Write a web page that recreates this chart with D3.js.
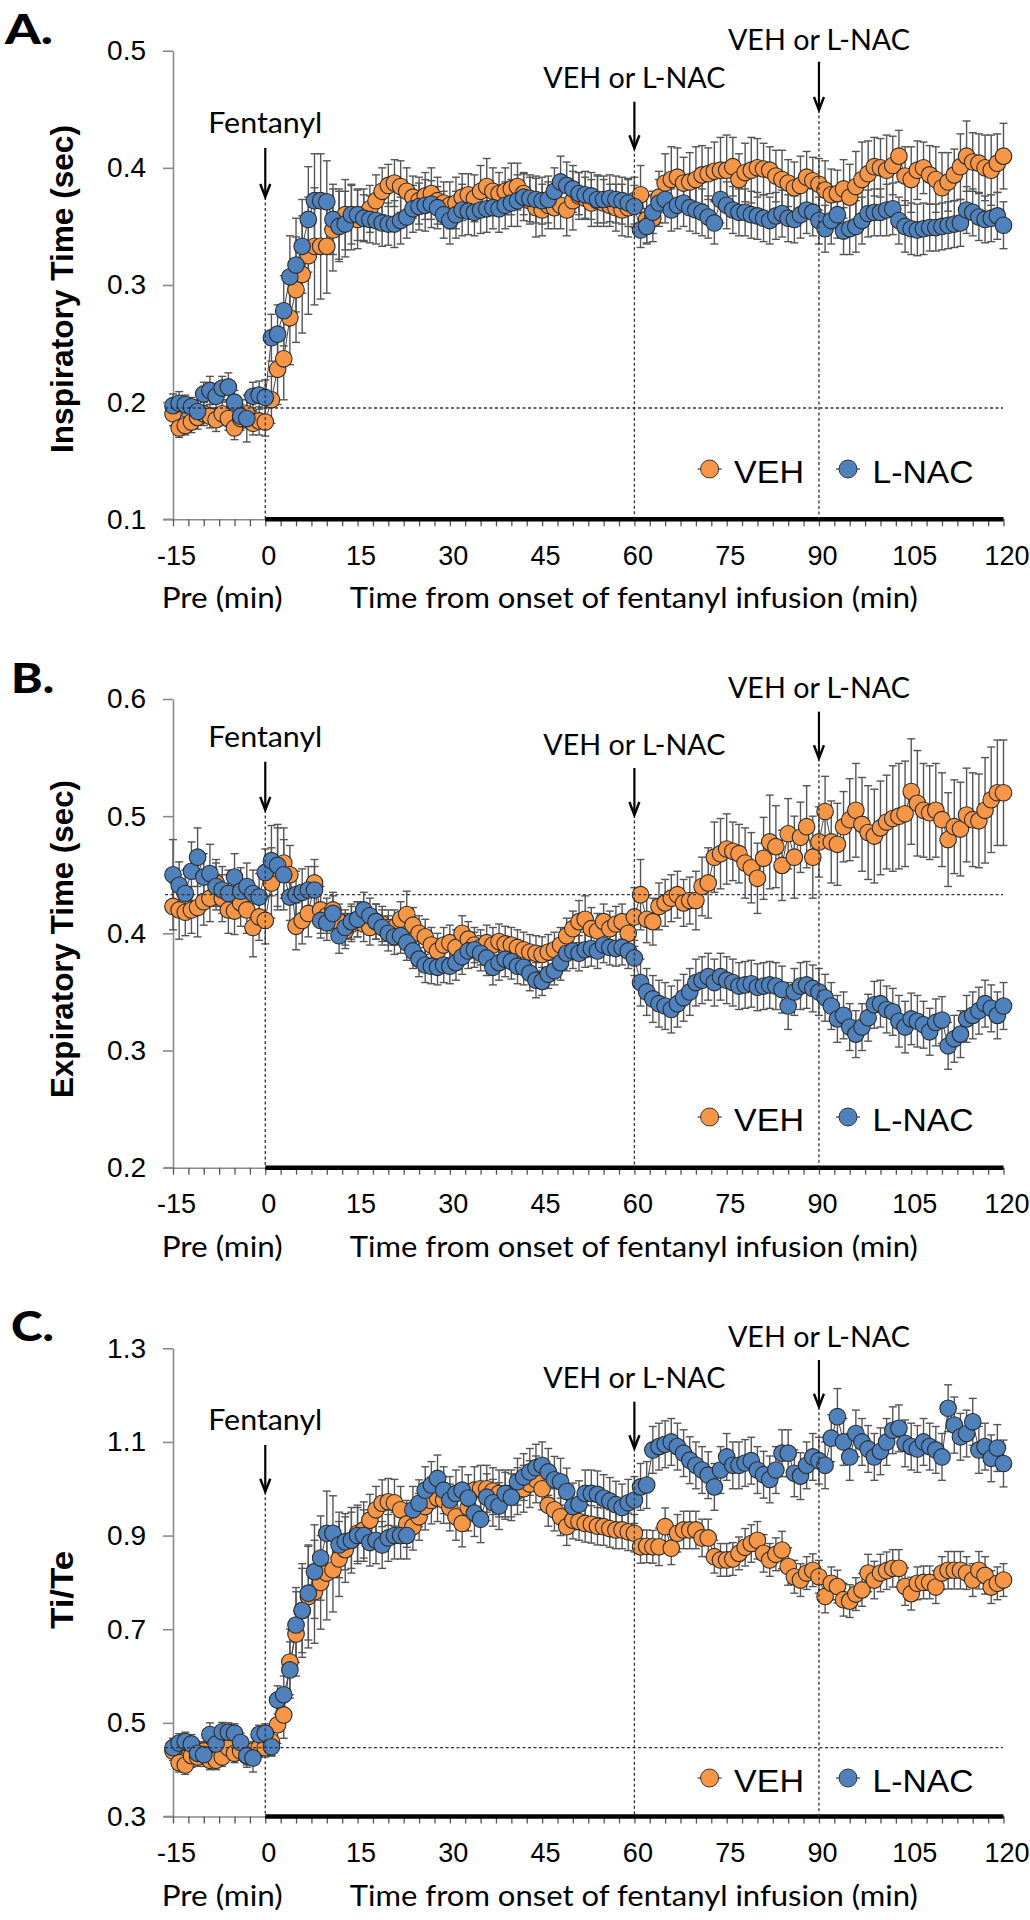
<!DOCTYPE html>
<html><head><meta charset="utf-8">
<script src="https://cdn.jsdelivr.net/npm/d3@7"></script>
<style>body{margin:0;background:#fff}svg{display:block}</style>
</head><body>
<svg id="chart" width="1030" height="1920"></svg>
<script>
// ---------------- DATA ----------------
const minutes = d3.range(-15, 121);            // one sample per minute, -15 .. 120
const xTickLabels = [-15, 0, 15, 30, 45, 60, 75, 90, 105, 120];
const seriesNames = ["VEH", "L-NAC"];
const eventTimes = [0, 60, 90];
const eventLabels = ["Fentanyl", "VEH or L-NAC", "VEH or L-NAC"];

// Panel A: Inspiratory time (sec)
const aTicks = [0.1, 0.2, 0.3, 0.4, 0.5];
const aBaseline = 0.195;
const aVEH = [
0.190,0.178,0.180,0.183,0.187,0.190,0.188,0.185,0.190,0.186,
0.178,0.186,0.190,0.182,0.184,0.183,0.202,0.228,0.237,0.272,
0.296,0.309,0.325,0.333,0.333,0.333,0.347,0.352,0.360,0.358,
0.356,0.360,0.365,0.372,0.380,0.385,0.387,0.384,0.380,0.375,
0.372,0.376,0.378,0.372,0.370,0.368,0.370,0.375,0.377,0.374,
0.380,0.384,0.380,0.378,0.380,0.382,0.384,0.378,0.372,0.366,
0.364,0.368,0.366,0.368,0.364,0.372,0.376,0.374,0.370,0.372,
0.370,0.368,0.366,0.364,0.366,0.372,0.377,0.356,0.357,0.375,
0.387,0.390,0.392,0.387,0.388,0.390,0.394,0.395,0.397,0.398,
0.398,0.401,0.390,0.396,0.398,0.400,0.399,0.398,0.393,0.390,
0.387,0.383,0.385,0.392,0.389,0.386,0.381,0.377,0.378,0.382,
0.375,0.384,0.390,0.395,0.401,0.400,0.398,0.402,0.410,0.393,
0.390,0.398,0.400,0.394,0.390,0.383,0.388,0.394,0.401,0.410,
0.405,0.404,0.400,0.398,0.404,0.410];
const aVEHerr = [
0.010,0.008,0.008,0.009,0.010,0.010,0.010,0.010,0.010,0.010,
0.010,0.010,0.012,0.010,0.012,0.012,0.020,0.030,0.035,0.040,
0.045,0.050,0.050,0.050,0.045,0.040,0.035,0.030,0.030,0.028,
0.025,0.022,0.020,0.022,0.020,0.018,0.020,0.022,0.020,0.018,
0.020,0.020,0.022,0.020,0.018,0.020,0.022,0.020,0.018,0.020,
0.022,0.024,0.020,0.018,0.020,0.022,0.020,0.018,0.020,0.025,
0.022,0.020,0.018,0.020,0.022,0.025,0.020,0.018,0.020,0.022,
0.020,0.018,0.020,0.022,0.025,0.020,0.025,0.020,0.020,0.022,
0.025,0.028,0.025,0.022,0.025,0.028,0.025,0.022,0.025,0.028,
0.030,0.025,0.022,0.025,0.028,0.025,0.022,0.020,0.022,0.025,
0.020,0.022,0.025,0.022,0.020,0.022,0.025,0.022,0.020,0.025,
0.028,0.030,0.032,0.028,0.025,0.025,0.030,0.025,0.022,0.025,
0.028,0.025,0.022,0.025,0.028,0.030,0.025,0.022,0.028,0.030,
0.025,0.025,0.028,0.030,0.025,0.028];
const aNAC = [
0.197,0.199,0.198,0.196,0.192,0.207,0.210,0.205,0.212,0.213,
0.200,0.188,0.186,0.205,0.206,0.204,0.255,0.258,0.278,0.307,
0.317,0.333,0.356,0.372,0.372,0.371,0.356,0.350,0.352,0.360,
0.360,0.357,0.356,0.355,0.353,0.352,0.352,0.355,0.358,0.365,
0.367,0.368,0.369,0.366,0.360,0.355,0.360,0.364,0.363,0.362,
0.364,0.365,0.366,0.365,0.368,0.370,0.372,0.375,0.374,0.373,
0.372,0.373,0.380,0.388,0.385,0.382,0.378,0.377,0.376,0.373,
0.373,0.374,0.373,0.372,0.370,0.367,0.347,0.350,0.362,0.370,
0.373,0.364,0.368,0.370,0.366,0.364,0.362,0.358,0.353,0.373,
0.368,0.364,0.362,0.362,0.360,0.359,0.357,0.355,0.359,0.361,
0.357,0.356,0.360,0.364,0.362,0.355,0.348,0.355,0.360,0.346,
0.348,0.350,0.355,0.361,0.362,0.362,0.364,0.365,0.355,0.350,
0.348,0.347,0.348,0.349,0.349,0.350,0.351,0.352,0.353,0.364,
0.362,0.358,0.356,0.357,0.359,0.351];
const aNACerr = [
0.010,0.010,0.008,0.008,0.010,0.010,0.012,0.010,0.010,0.012,
0.010,0.010,0.020,0.012,0.012,0.015,0.020,0.025,0.030,0.035,
0.040,0.040,0.045,0.040,0.040,0.035,0.030,0.030,0.028,0.025,
0.022,0.020,0.020,0.020,0.020,0.018,0.020,0.020,0.018,0.020,
0.020,0.022,0.020,0.018,0.020,0.020,0.020,0.022,0.020,0.020,
0.020,0.020,0.018,0.020,0.020,0.020,0.022,0.020,0.020,0.020,
0.020,0.020,0.020,0.022,0.020,0.020,0.018,0.020,0.020,0.020,
0.020,0.020,0.020,0.020,0.020,0.018,0.015,0.015,0.018,0.020,
0.020,0.018,0.020,0.020,0.020,0.020,0.020,0.018,0.018,0.020,
0.020,0.020,0.020,0.020,0.020,0.020,0.020,0.020,0.020,0.020,
0.020,0.020,0.020,0.020,0.020,0.020,0.020,0.020,0.020,0.020,
0.022,0.022,0.020,0.020,0.020,0.020,0.022,0.022,0.020,0.022,
0.022,0.022,0.022,0.020,0.020,0.020,0.020,0.020,0.020,0.020,
0.020,0.020,0.020,0.020,0.020,0.020];

// Panel B: Expiratory time (sec)
const bTicks = [0.2, 0.3, 0.4, 0.5, 0.6];
const bBaseline = 0.433;
const bVEH = [
0.423,0.420,0.418,0.420,0.422,0.427,0.430,0.443,0.430,0.420,
0.419,0.426,0.420,0.405,0.414,0.411,0.443,0.455,0.460,0.450,
0.406,0.411,0.417,0.443,0.420,0.415,0.420,0.410,0.402,0.408,
0.412,0.408,0.405,0.410,0.408,0.405,0.405,0.412,0.416,0.407,
0.400,0.397,0.390,0.385,0.390,0.392,0.388,0.400,0.395,0.390,
0.388,0.392,0.390,0.393,0.391,0.390,0.388,0.386,0.384,0.383,
0.382,0.384,0.386,0.390,0.398,0.404,0.410,0.412,0.404,0.402,
0.410,0.404,0.408,0.410,0.400,0.414,0.433,0.412,0.410,0.423,
0.426,0.430,0.433,0.426,0.428,0.428,0.440,0.443,0.465,0.468,
0.472,0.470,0.468,0.460,0.456,0.447,0.464,0.478,0.474,0.458,
0.485,0.465,0.482,0.491,0.465,0.478,0.504,0.478,0.476,0.491,
0.497,0.505,0.493,0.486,0.483,0.490,0.495,0.498,0.500,0.502,
0.521,0.511,0.505,0.503,0.505,0.497,0.480,0.491,0.489,0.501,
0.497,0.496,0.505,0.514,0.520,0.520];
const bVEHerr = [
0.020,0.025,0.020,0.020,0.025,0.020,0.020,0.020,0.020,0.020,
0.020,0.020,0.020,0.025,0.020,0.020,0.030,0.035,0.030,0.025,
0.020,0.020,0.020,0.020,0.020,0.015,0.015,0.015,0.015,0.015,
0.015,0.015,0.015,0.015,0.015,0.015,0.015,0.015,0.020,0.015,
0.015,0.015,0.015,0.015,0.015,0.015,0.015,0.015,0.015,0.015,
0.015,0.015,0.015,0.015,0.015,0.015,0.015,0.015,0.015,0.015,
0.015,0.015,0.015,0.015,0.015,0.015,0.018,0.020,0.018,0.015,
0.015,0.015,0.015,0.015,0.015,0.025,0.030,0.020,0.020,0.020,
0.020,0.020,0.020,0.020,0.020,0.025,0.025,0.030,0.030,0.030,
0.030,0.025,0.025,0.030,0.030,0.030,0.035,0.040,0.035,0.030,
0.030,0.035,0.030,0.035,0.035,0.030,0.030,0.035,0.035,0.030,
0.035,0.040,0.040,0.040,0.040,0.040,0.040,0.045,0.045,0.045,
0.045,0.045,0.040,0.040,0.040,0.040,0.040,0.040,0.040,0.040,
0.040,0.040,0.045,0.045,0.045,0.045];
const bNAC = [
0.450,0.441,0.434,0.453,0.465,0.448,0.451,0.440,0.437,0.434,
0.448,0.436,0.440,0.434,0.431,0.452,0.462,0.458,0.450,0.431,
0.433,0.435,0.437,0.437,0.411,0.409,0.417,0.398,0.405,0.410,
0.412,0.420,0.415,0.410,0.405,0.400,0.397,0.398,0.392,0.385,
0.378,0.373,0.372,0.371,0.373,0.372,0.375,0.380,0.385,0.386,
0.383,0.379,0.371,0.375,0.378,0.376,0.372,0.371,0.366,0.360,
0.359,0.365,0.368,0.375,0.383,0.385,0.383,0.386,0.387,0.385,
0.390,0.388,0.387,0.388,0.385,0.379,0.358,0.350,0.344,0.340,
0.338,0.335,0.340,0.345,0.350,0.358,0.360,0.363,0.358,0.363,
0.360,0.358,0.355,0.356,0.357,0.354,0.355,0.356,0.355,0.352,
0.338,0.350,0.355,0.356,0.353,0.350,0.345,0.338,0.327,0.330,
0.320,0.314,0.320,0.328,0.339,0.340,0.335,0.333,0.325,0.320,
0.327,0.325,0.322,0.316,0.324,0.326,0.304,0.310,0.314,0.327,
0.330,0.334,0.340,0.336,0.330,0.338];
const bNACerr = [
0.030,0.020,0.020,0.025,0.025,0.020,0.025,0.020,0.020,0.020,
0.020,0.020,0.020,0.020,0.020,0.020,0.030,0.035,0.030,0.020,
0.020,0.020,0.020,0.020,0.015,0.015,0.015,0.015,0.015,0.015,
0.015,0.015,0.015,0.015,0.015,0.015,0.015,0.015,0.015,0.015,
0.015,0.015,0.015,0.015,0.015,0.015,0.015,0.015,0.015,0.015,
0.015,0.015,0.015,0.015,0.015,0.015,0.015,0.015,0.015,0.015,
0.012,0.012,0.012,0.015,0.015,0.015,0.015,0.015,0.015,0.015,
0.015,0.015,0.015,0.015,0.015,0.015,0.020,0.020,0.020,0.020,
0.020,0.020,0.020,0.020,0.020,0.020,0.020,0.020,0.020,0.020,
0.020,0.020,0.020,0.020,0.020,0.020,0.020,0.020,0.020,0.020,
0.020,0.020,0.020,0.020,0.020,0.020,0.020,0.020,0.020,0.020,
0.020,0.020,0.020,0.020,0.020,0.020,0.020,0.020,0.022,0.022,
0.022,0.022,0.020,0.020,0.020,0.020,0.020,0.020,0.020,0.020,
0.020,0.020,0.020,0.020,0.020,0.020];

// Panel C: Ti/Te
const cTicks = [0.3, 0.5, 0.7, 0.9, 1.1, 1.3];
const cBaseline = 0.447;
const cVEH = [
0.440,0.415,0.410,0.430,0.427,0.440,0.420,0.420,0.427,0.447,
0.435,0.440,0.430,0.440,0.447,0.447,0.460,0.496,0.517,0.630,
0.690,0.740,0.770,0.780,0.800,0.820,0.827,0.850,0.870,0.890,
0.905,0.912,0.933,0.955,0.969,0.972,0.970,0.955,0.925,0.919,
0.940,0.962,0.975,0.980,0.976,0.960,0.940,0.926,0.960,0.997,
1.000,1.000,0.995,0.990,0.985,0.990,0.995,1.000,1.010,1.020,
1.000,0.965,0.955,0.940,0.919,0.933,0.930,0.926,0.924,0.920,
0.919,0.915,0.912,0.912,0.908,0.905,0.876,0.877,0.876,0.876,
0.919,0.873,0.905,0.912,0.912,0.912,0.895,0.895,0.855,0.848,
0.848,0.850,0.862,0.875,0.883,0.890,0.862,0.848,0.860,0.869,
0.834,0.812,0.805,0.820,0.826,0.812,0.770,0.798,0.791,0.763,
0.760,0.775,0.784,0.820,0.805,0.820,0.825,0.830,0.830,0.791,
0.776,0.798,0.800,0.800,0.790,0.820,0.826,0.826,0.826,0.820,
0.805,0.826,0.815,0.790,0.798,0.805];
const cVEHerr = [
0.020,0.020,0.020,0.025,0.020,0.020,0.020,0.020,0.020,0.025,
0.020,0.020,0.020,0.020,0.020,0.020,0.030,0.040,0.050,0.070,
0.090,0.100,0.110,0.110,0.100,0.100,0.090,0.080,0.070,0.070,
0.060,0.060,0.055,0.050,0.050,0.050,0.050,0.050,0.050,0.050,
0.050,0.050,0.050,0.050,0.050,0.050,0.050,0.050,0.050,0.050,
0.050,0.050,0.050,0.050,0.050,0.050,0.050,0.050,0.050,0.050,
0.045,0.045,0.045,0.040,0.040,0.040,0.040,0.040,0.040,0.040,
0.040,0.040,0.040,0.040,0.040,0.040,0.035,0.035,0.035,0.040,
0.040,0.035,0.040,0.040,0.040,0.040,0.040,0.040,0.035,0.035,
0.035,0.035,0.035,0.040,0.040,0.040,0.040,0.035,0.035,0.040,
0.040,0.035,0.035,0.035,0.035,0.035,0.035,0.035,0.035,0.035,
0.035,0.035,0.035,0.040,0.040,0.040,0.040,0.040,0.040,0.040,
0.035,0.035,0.035,0.035,0.035,0.035,0.040,0.040,0.040,0.035,
0.035,0.040,0.040,0.035,0.035,0.035];
const cNAC = [
0.447,0.457,0.460,0.455,0.435,0.432,0.475,0.455,0.481,0.480,
0.478,0.458,0.430,0.425,0.475,0.478,0.449,0.549,0.560,0.613,
0.709,0.740,0.777,0.823,0.852,0.905,0.905,0.880,0.887,0.890,
0.900,0.900,0.885,0.890,0.880,0.895,0.900,0.900,0.900,0.955,
0.969,0.997,1.008,1.022,0.997,0.976,0.990,0.997,0.980,0.948,
0.935,0.982,0.970,0.963,0.990,0.982,1.015,1.025,1.036,1.045,
1.050,1.036,1.019,1.015,0.994,0.962,0.967,0.990,0.990,0.988,
0.980,0.974,0.966,0.960,0.970,0.976,1.004,1.008,1.083,1.090,
1.095,1.100,1.090,1.076,1.061,1.050,1.040,1.029,1.004,1.040,
1.068,1.050,1.050,1.055,1.060,1.040,1.030,1.020,1.040,1.076,
1.076,1.033,1.027,1.050,1.068,1.060,1.050,1.108,1.154,1.100,
1.068,1.118,1.100,1.085,1.068,1.080,1.100,1.125,1.129,1.097,
1.090,1.085,1.100,1.090,1.083,1.068,1.172,1.136,1.111,1.118,
1.143,1.083,1.090,1.065,1.087,1.054];
const cNACerr = [
0.020,0.020,0.020,0.020,0.020,0.025,0.025,0.020,0.020,0.020,
0.020,0.020,0.025,0.030,0.020,0.020,0.020,0.030,0.040,0.060,
0.080,0.090,0.100,0.100,0.090,0.090,0.080,0.070,0.060,0.060,
0.060,0.055,0.050,0.050,0.050,0.050,0.050,0.050,0.050,0.050,
0.050,0.050,0.050,0.050,0.050,0.050,0.050,0.050,0.050,0.050,
0.050,0.050,0.050,0.050,0.050,0.050,0.050,0.050,0.050,0.050,
0.050,0.050,0.050,0.050,0.050,0.050,0.050,0.050,0.050,0.050,
0.050,0.050,0.050,0.050,0.050,0.050,0.050,0.050,0.050,0.050,
0.050,0.050,0.050,0.050,0.050,0.050,0.050,0.050,0.050,0.050,
0.050,0.050,0.050,0.050,0.050,0.050,0.050,0.050,0.050,0.050,
0.050,0.050,0.050,0.050,0.050,0.050,0.050,0.050,0.060,0.050,
0.050,0.050,0.050,0.050,0.050,0.050,0.050,0.050,0.050,0.050,
0.050,0.050,0.050,0.050,0.050,0.050,0.050,0.060,0.050,0.050,
0.050,0.050,0.050,0.050,0.050,0.050];

// ---------------- LAYOUT ----------------
const ARIAL = "'Liberation Sans', Arial, Helvetica, sans-serif";
const CALIBRI = "Lato, Carlito, 'Open Sans', sans-serif";
const COL_VEH = "#F79646", COL_NAC = "#4F81BD";

const panels = [
  { label:"A.", labelX:5, labelY:44, labelW:48, title:"Inspiratory Time (sec)", titleY:289, titleW:328,
    ticks:aTicks, range:[519.3, 50.7], baseline:aBaseline,
    veh:aVEH, vehErr:aVEHerr, nac:aNAC, nacErr:aNACerr,
    ann:[{ty:132.7, y0:148, y1:197},{ty:88.3, y0:101.7, y1:148.3},{ty:50, y0:61.7, y1:110}],
    legendY:469 },
  { label:"B.", labelX:11, labelY:693, labelW:43, title:"Expiratory Time (sec)", titleY:939, titleW:318,
    ticks:bTicks, range:[1167.7, 699], baseline:bBaseline,
    veh:bVEH, vehErr:bVEHerr, nac:bNAC, nacErr:bNACerr,
    ann:[{ty:746.7, y0:761.7, y1:810},{ty:755, y0:768, y1:815},{ty:698.3, y0:711.7, y1:758.3}],
    legendY:1117 },
  { label:"C.", labelX:11, labelY:1341, labelW:43, title:"Ti/Te", titleY:1590, titleW:78,
    ticks:cTicks, range:[1816.5, 1348.3], baseline:cBaseline,
    veh:cVEH, vehErr:cVEHerr, nac:cNAC, nacErr:cNACerr,
    ann:[{ty:1430, y0:1445, y1:1491.7},{ty:1388.3, y0:1401.7, y1:1448.3},{ty:1347.3, y0:1360, y1:1406.7}],
    legendY:1778 }
];
const annW = [114, 182, 182];

const svg = d3.select("#chart");
const x = d3.scaleLinear().domain([-15, 120]).range([173, 1003.5]);
const minorTicks = d3.range(-15, 120.001, 2.5);

panels.forEach(p => {
  const y = d3.scaleLinear().domain([p.ticks[0], p.ticks[p.ticks.length-1]]).range(p.range);
  const g = svg.append("g");
  const y0px = p.range[0];

  // panel label
  g.append("text").attr("x", p.labelX).attr("y", p.labelY)
    .attr("font-family", CALIBRI).attr("font-weight", 900).attr("font-size", 41)
    .attr("textLength", p.labelW).attr("lengthAdjust", "spacingAndGlyphs")
    .text(p.label);

  // y title
  g.append("text").attr("transform", `translate(73,${p.titleY}) rotate(-90)`)
    .attr("text-anchor", "middle").attr("font-family", ARIAL).attr("font-weight", 700)
    .attr("font-size", 31.5).attr("textLength", p.titleW).attr("lengthAdjust", "spacingAndGlyphs")
    .text(p.title);

  // y axis
  const yAxis = g.append("g").attr("transform", "translate(173,0)")
    .call(d3.axisLeft(y).tickValues(p.ticks).tickFormat(d3.format(".1f")).tickSize(10).tickSizeOuter(0).tickPadding(17));
  yAxis.select(".domain").attr("stroke", "#8a8a8a").attr("stroke-width", 1.6);
  yAxis.selectAll(".tick line").attr("stroke", "#8a8a8a").attr("stroke-width", 1.6);
  yAxis.selectAll("text").attr("font-family", ARIAL).attr("font-size", 28).attr("fill", "#000");

  // x axis: minor ticks
  const xAxis = g.append("g").attr("transform", `translate(0,${y0px})`)
    .call(d3.axisBottom(x).tickValues(minorTicks).tickFormat("").tickSize(7).tickSizeOuter(0));
  xAxis.select(".domain").attr("stroke", "#8a8a8a").attr("stroke-width", 1.6);
  xAxis.selectAll(".tick line").attr("stroke", "#555").attr("stroke-width", 1.3);
  g.append("line").attr("x1", 164).attr("x2", 173).attr("y1", y0px).attr("y2", y0px)
    .attr("stroke", "#8a8a8a").attr("stroke-width", 1.6);
  // x labels (plain hyphen minus as in the original)
  const xLab = g.append("g").attr("transform", `translate(0,${y0px})`)
    .call(d3.axisBottom(x).tickValues(xTickLabels).tickFormat(d => String(d)).tickSize(0));
  xLab.select(".domain").remove();
  xLab.selectAll("text").attr("y", 45.7).attr("dy", 0).attr("dx", 3)
    .attr("font-family", ARIAL).attr("font-size", 27).attr("fill", "#000");
  // thick infusion bar
  g.append("line").attr("x1", x(0)).attr("x2", x(120)).attr("y1", y0px).attr("y2", y0px)
    .attr("stroke", "#000").attr("stroke-width", 4.5);

  // x titles
  g.append("text").attr("x", 161.7).attr("y", y0px + 89).attr("font-family", CALIBRI)
    .attr("font-size", 28).attr("textLength", 121).attr("lengthAdjust", "spacingAndGlyphs").text("Pre (min)");
  g.append("text").attr("x", 349.8).attr("y", y0px + 89).attr("font-family", CALIBRI)
    .attr("font-size", 28).attr("textLength", 568).attr("lengthAdjust", "spacingAndGlyphs")
    .text("Time from onset of fentanyl infusion (min)");

  // data
  const series = [
    {name:seriesNames[0], vals:p.veh, err:p.vehErr, color:COL_VEH},
    {name:seriesNames[1], vals:p.nac, err:p.nacErr, color:COL_NAC}
  ];
  series.forEach(s => {
    const eg = g.append("g").attr("stroke", "#555").attr("stroke-width", 1.4).attr("fill", "none");
    minutes.forEach((t, i) => {
      const v = s.vals[i], e = s.err[i];
      if (v == null || e == null) return;
      const cx = x(t), yt = y(v + e), yb = y(v - e);
      eg.append("line").attr("x1", cx).attr("x2", cx).attr("y1", yt).attr("y2", yb);
      eg.append("line").attr("x1", cx - 4).attr("x2", cx + 4).attr("y1", yt).attr("y2", yt);
      eg.append("line").attr("x1", cx - 4).attr("x2", cx + 4).attr("y1", yb).attr("y2", yb);
    });
  });
  series.forEach(s => {
    const line = d3.line().x((d) => x(d)).y((d, i) => y(s.vals[i]));
    g.append("path").datum(minutes).attr("d", line).attr("fill", "none")
      .attr("stroke", "#444").attr("stroke-width", 1);
  });
  series.forEach(s => {
    g.append("g").selectAll("circle").data(minutes).join("circle")
      .attr("cx", d => x(d)).attr("cy", (d, i) => y(s.vals[i])).attr("r", 8.3)
      .attr("fill", s.color).attr("stroke", "#2b2b2b").attr("stroke-width", 1.1);
  });

  // baseline dotted line
  g.append("line").attr("x1", 165).attr("x2", 1003).attr("y1", y(p.baseline)).attr("y2", y(p.baseline))
    .attr("stroke", "#333").attr("stroke-width", 1.3).attr("stroke-dasharray", "3,2.5");

  // event markers
  eventTimes.forEach((t, k) => {
    const a = p.ann[k], ex = x(t);
    g.append("line").attr("x1", ex).attr("x2", ex).attr("y1", a.y1).attr("y2", y0px)
      .attr("stroke", "#333").attr("stroke-width", 1.3).attr("stroke-dasharray", "3,2.5");
    g.append("line").attr("x1", ex).attr("x2", ex).attr("y1", a.y0).attr("y2", a.y1 - 1)
      .attr("stroke", "#000").attr("stroke-width", 2.2);
    g.append("path").attr("d", `M${ex-5},${a.y1-13}L${ex},${a.y1}L${ex+5},${a.y1-13}`)
      .attr("fill", "none").attr("stroke", "#000").attr("stroke-width", 2.4);
    g.append("text").attr("x", ex).attr("y", a.ty).attr("text-anchor", "middle")
      .attr("font-family", CALIBRI).attr("font-size", 28)
      .attr("textLength", annW[k]).attr("lengthAdjust", "spacingAndGlyphs").text(eventLabels[k]);
  });

  // legend
  const leg = [{cx:709.6, tx:734, tw:70, color:COL_VEH}, {cx:848, tx:872.6, tw:101, color:COL_NAC}];
  leg.forEach((l, k) => {
    g.append("line").attr("x1", l.cx - 12).attr("x2", l.cx + 12).attr("y1", p.legendY).attr("y2", p.legendY)
      .attr("stroke", "#444").attr("stroke-width", 1.3);
    g.append("circle").attr("cx", l.cx).attr("cy", p.legendY).attr("r", 9)
      .attr("fill", l.color).attr("stroke", "#333").attr("stroke-width", 1);
    g.append("text").attr("x", l.tx).attr("y", p.legendY + 13.5).attr("font-family", ARIAL)
      .attr("font-size", 32).attr("textLength", l.tw).attr("lengthAdjust", "spacingAndGlyphs")
      .text(seriesNames[k]);
  });
});
</script>
</body></html>
